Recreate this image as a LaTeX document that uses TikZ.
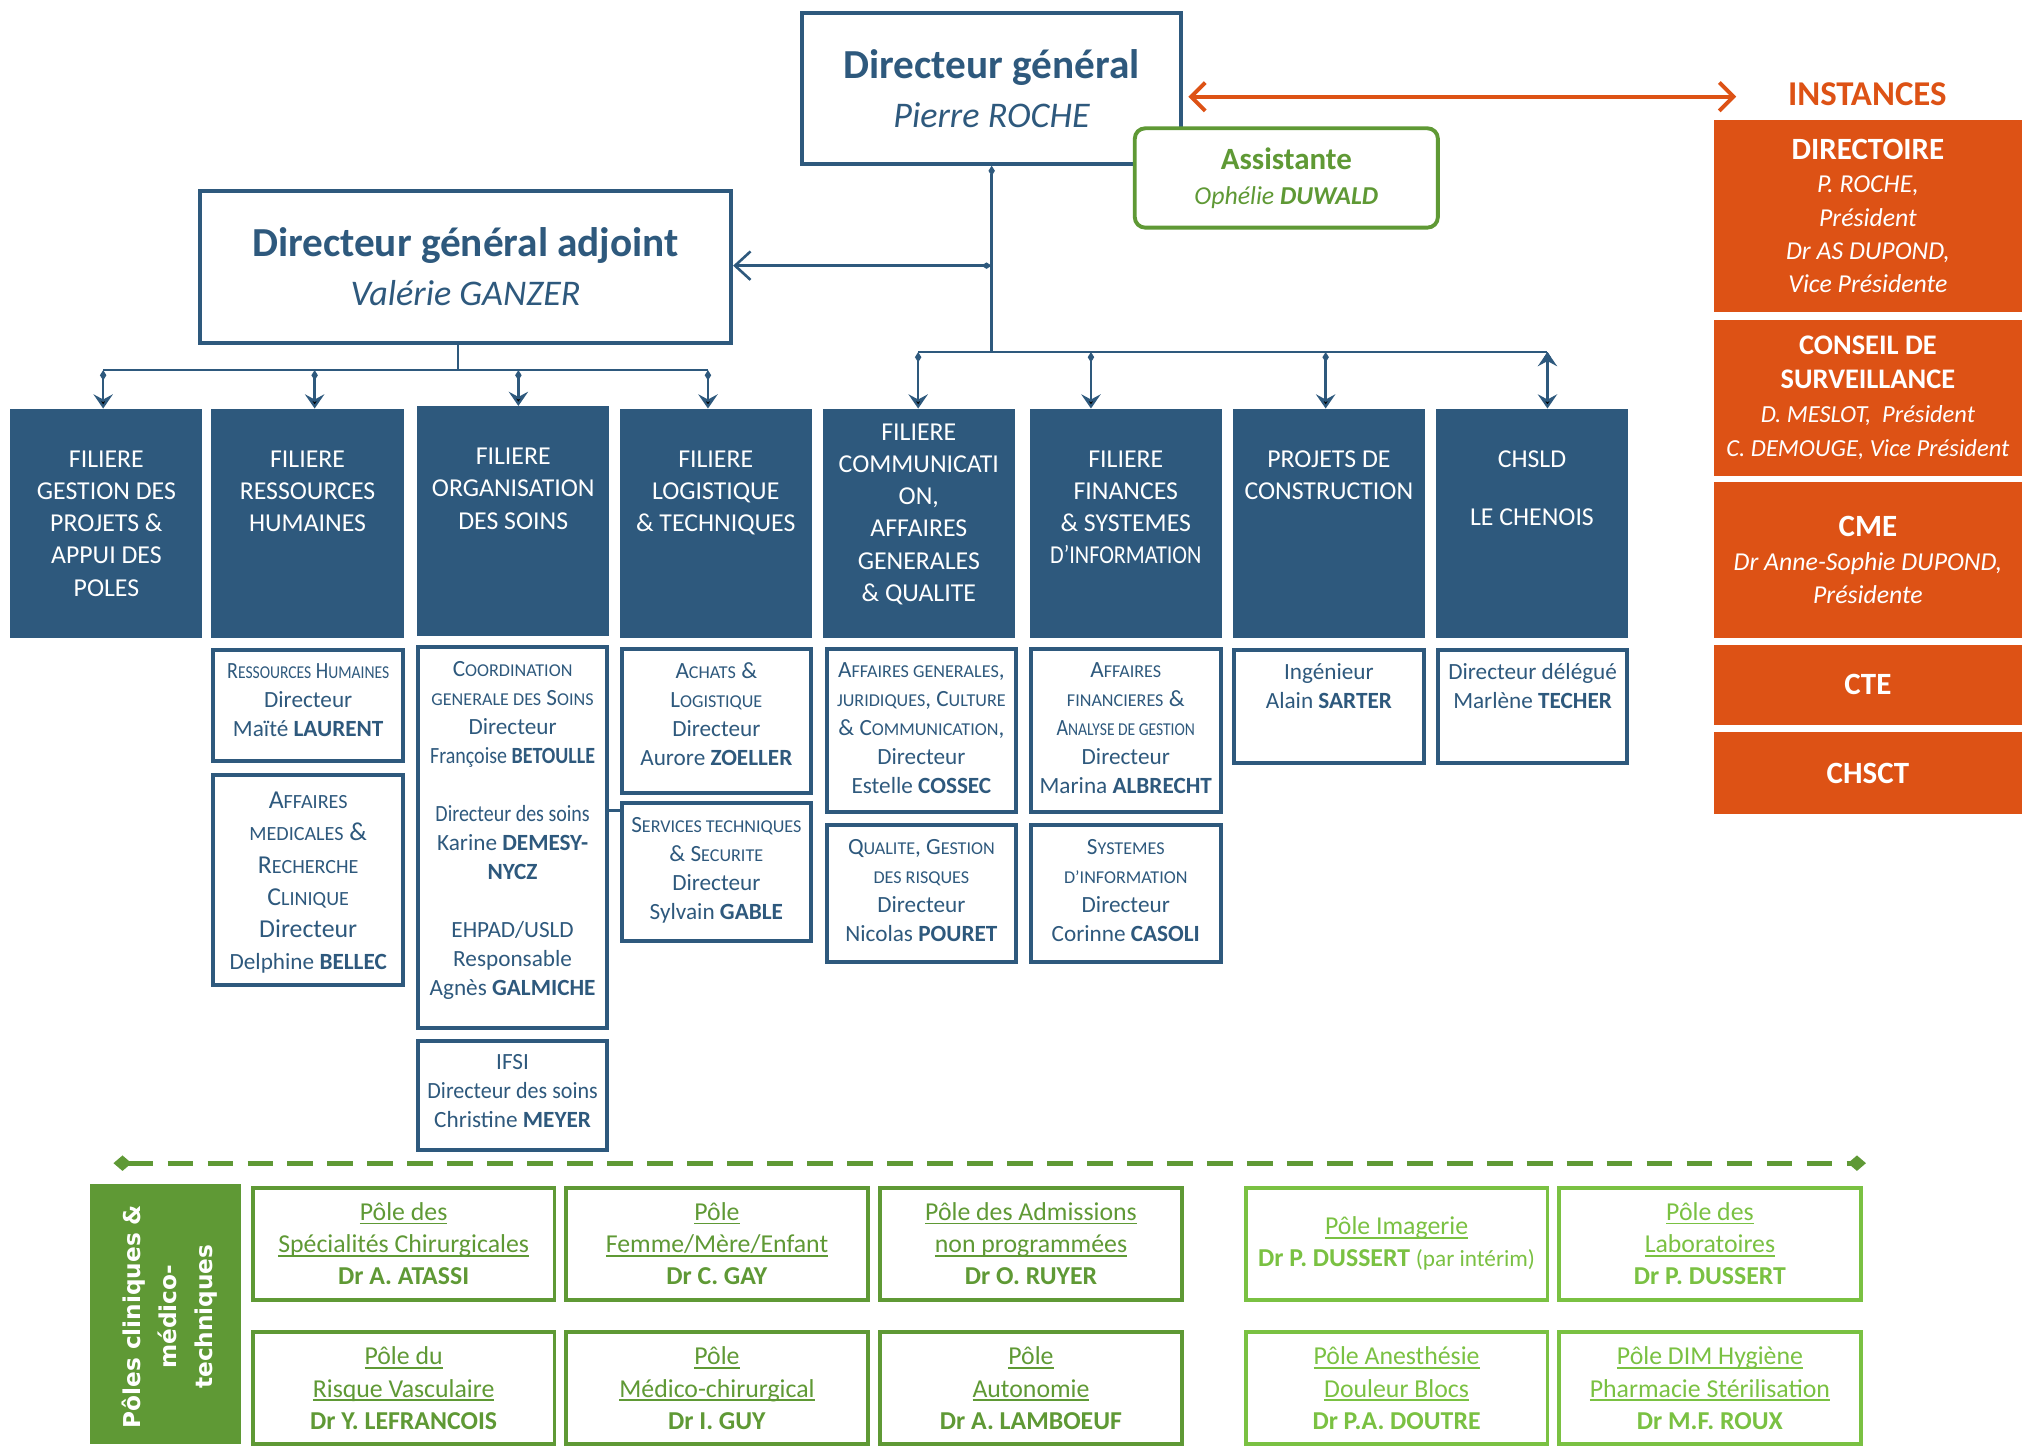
\documentclass[tikz,border=0pt]{standalone}
\usepackage{fontspec}
\setmainfont{Carlito}
\newfontfamily\polefont{DejaVu Sans}
\usepackage{graphicx}
\usepackage{tikz}
\usetikzlibrary{calc,positioning,shapes,arrows,arrows.meta,fit,backgrounds}

\definecolor{bleu}{HTML}{2E597D}
\definecolor{orinst}{HTML}{DD5215}
\definecolor{vertf}{HTML}{5F9935}
\definecolor{vertc}{HTML}{7AC142}
\newcommand{\fs}[2]{\fontsize{#1}{#2}\selectfont}
\newcommand{\petit}[1]{\scalebox{0.78}{#1}}
\newcommand{\serre}[1]{\scalebox{0.86}[1]{#1}}
\newsavebox{\soulbox}
\newcommand{\souligne}[1]{\sbox{\soulbox}{#1}\rlap{\rule[-3pt]{\wd\soulbox}{1.3pt}}\usebox{\soulbox}}

\begin{document}
\begin{tikzpicture}[x=1pt,y=-1pt,
		cadre/.style={draw=bleu,line width=3pt,fill=white,inner sep=0pt,align=center,text=bleu},
		filiere/.style={fill=bleu,minimum width=149pt,minimum height=178pt,inner sep=0pt},
		ftxt/.style={text=white,font=\fs{20}{25},align=center,anchor=north,inner xsep=0pt,inner ysep=32.5pt,execute at begin node=\strut},
		wbox/.style={draw=bleu,line width=3pt,minimum width=147pt,inner sep=0pt},
		wtxt/.style={text=bleu,font=\fs{18}{22.5},align=center,anchor=north,inner xsep=0pt,inner ysep=12pt,execute at begin node=\strut},
		inst/.style={fill=orinst,text=white,minimum width=239pt,inner sep=0pt,align=center,font=\fs{20}{25.7}},
		pole/.style={draw=vertf,text=vertf,line width=3pt,fill=white,minimum width=234pt,minimum height=87pt,inner sep=0pt,align=center,font=\fs{20}{25}},
		polec/.style={pole,draw=vertc,text=vertc},
		lien/.style={draw=bleu,line width=2pt},
		fleche/.style={lien,{Diamond[length=8pt,width=5pt]}-{Stealth[length=11pt,width=15pt,inset=4pt]}}]
		\useasboundingbox[fill=white] (0,0) rectangle (1568,1121);
		\node(1) [cadre,minimum width=294pt,minimum height=117pt,font=\fs{28}{38}] at (769,68.5) {{\fs{32}{38}\textbf{Directeur général}}\\\textit{Pierre ROCHE}};
		\node(2) [cadre,minimum width=412pt,minimum height=118pt,font=\fs{28}{38}] at (361,207) {{\fs{32}{38}\textbf{Directeur général adjoint}}\\\textit{Valérie GANZER}};
		\node(3) [draw=vertf,line width=3pt,rounded corners=8pt,fill=white,minimum width=235pt,minimum height=77pt,inner sep=0pt,align=center,text=vertf,font=\fs{20}{27}] at (997.5,138) {{\fs{24}{27}\textbf{Assistante}}\\\textit{Ophélie \textbf{DUWALD}}};
		\node(4) [text=orinst,font=\fs{27}{30}\bfseries,inner sep=0pt] at (1448,73) {INSTANCES};
		\node(5) [inst,minimum height=149pt] at (1448.5,167.5) {{\fs{24}{26}\textbf{DIRECTOIRE}}\\\textit{P. ROCHE,}\\\textit{Président}\\\textit{Dr AS DUPOND,}\\\textit{Vice Présidente}};
		\node(6) [inst,minimum height=121pt,font=\fs{19}{26.3}] at (1448.5,308.5) {{\fs{22}{27}\textbf{CONSEIL DE}}\\{\fs{22}{27}\textbf{SURVEILLANCE}}\\\textit{D. MESLOT,~~Président}\\\textit{C. DEMOUGE, Vice Président}};
		\node(7) [inst,minimum height=121pt,font=\fs{20}{26}] at (1448.5,434.5) {{\fs{24}{28}\textbf{CME}}\\\textit{Dr Anne-Sophie DUPOND,}\\\textit{Présidente}};
		\node(8) [inst,minimum height=62pt,font=\fs{24}{28}] at (1448.5,531) {\textbf{CTE}};
		\node(9) [inst,minimum height=63pt,font=\fs{24}{28}] at (1448.5,599.5) {\textbf{CHSCT}};

		\node(10) [filiere] at (82.5,406) {};
		\node(11) [filiere] at (238.5,406) {};
		\node(12) [filiere] at (398,404) {};
		\node(13) [filiere] at (555,406) {};
		\node(14) [filiere] at (712.5,406) {};
		\node(15) [filiere] at (873,406) {};
		\node(16) [filiere] at (1030.5,406) {};
		\node(17) [filiere] at (1188,406) {};
		\node(10t) [ftxt] at (10.north) {FILIERE\\GESTION DES\\PROJETS \&\\APPUI DES\\POLES};
		\node(11t) [ftxt] at (11.north) {FILIERE\\RESSOURCES\\HUMAINES};
		\node(12t) [ftxt] at (12.north) {FILIERE\\ORGANISATION\\DES SOINS};
		\node(13t) [ftxt] at (13.north) {FILIERE\\LOGISTIQUE\\\& TECHNIQUES};
		\node(14t) [ftxt,inner ysep=11.5pt] at (14.north) {FILIERE\\COMMUNICATI\\ON,\\AFFAIRES\\GENERALES\\\& QUALITE};
		\node(15t) [ftxt] at (15.north) {FILIERE\\FINANCES\\\& SYSTEMES\\\serre{D’INFORMATION}};
		\node(16t) [ftxt] at (16.north) {PROJETS DE\\CONSTRUCTION};
		\node(17t) [ftxt] at (17.north) {CHSLD\\[20pt]LE CHENOIS};

		\node(18) [wbox,minimum height=86pt] at (239,547) {};
		\node(19) [wbox,minimum height=163pt] at (239,682.5) {};
		\node(20) [wbox,minimum height=295pt] at (397.5,649.5) {};
		\node(21) [wbox,minimum height=85pt] at (397.5,849.5) {};
		\node(22) [wbox,minimum height=112pt] at (555.5,559) {};
		\node(23) [wbox,minimum height=107pt] at (555.5,676.5) {};
		\node(24) [wbox,minimum height=127pt] at (714.5,566.5) {};
		\node(25) [wbox,minimum height=106pt] at (714.5,693) {};
		\node(26) [wbox,minimum height=127pt] at (873,566.5) {};
		\node(27) [wbox,minimum height=106pt] at (873,693) {};
		\node(28) [wbox,minimum height=88pt] at (1030.5,548) {};
		\node(29) [wbox,minimum height=88pt] at (1188.5,548) {};
		\node(18t) [wtxt] at (18.north) {\serre{R\petit{ESSOURCES} H\petit{UMAINES}}\\Directeur\\Maïté \textbf{LAURENT}};
		\node(19t) [wtxt,font=\fs{20}{25},inner ysep=14.5pt] at (19.north) {A\petit{FFAIRES}\\\petit{MEDICALES} \&\\R\petit{ECHERCHE}\\C\petit{LINIQUE}\\Directeur\\{\fs{18}{25}Delphine \textbf{BELLEC}}};
		\node(20t) [wtxt] at (20.north) {C\petit{OORDINATION}\\\petit{GENERALE DES} S\petit{OINS}\\Directeur\\\serre{Françoise \textbf{BETOULLE}}\\[22.5pt]\serre{Directeur des soins}\\Karine \textbf{DEMESY-}\\\textbf{NYCZ}\\[22.5pt]EHPAD/USLD\\Responsable\\Agnès \textbf{GALMICHE}};
		\node(21t) [wtxt] at (21.north) {IFSI\\\scalebox{0.95}[1]{Directeur des soins}\\Christine \textbf{MEYER}};
		\node(22t) [wtxt] at (22.north) {A\petit{CHATS} \&\\L\petit{OGISTIQUE}\\Directeur\\Aurore \textbf{ZOELLER}};
		\node(23t) [wtxt] at (23.north) {S\petit{ERVICES TECHNIQUES}\\\& S\petit{ECURITE}\\Directeur\\Sylvain \textbf{GABLE}};
		\node(24t) [wtxt] at (24.north) {A\petit{FFAIRES GENERALES},\\\petit{JURIDIQUES}, C\petit{ULTURE}\\\& C\petit{OMMUNICATION},\\Directeur\\Estelle \textbf{COSSEC}};
		\node(25t) [wtxt] at (25.north) {Q\petit{UALITE}, G\petit{ESTION}\\\petit{DES RISQUES}\\Directeur\\Nicolas \textbf{POURET}};
		\node(26t) [wtxt] at (26.north) {A\petit{FFAIRES}\\\petit{FINANCIERES} \&\\\serre{A\petit{NALYSE DE GESTION}}\\Directeur\\Marina \textbf{ALBRECHT}};
		\node(27t) [wtxt] at (27.north) {S\petit{YSTEMES}\\\petit{D’INFORMATION}\\Directeur\\Corinne \textbf{CASOLI}};
		\node(28t) [wtxt] at (28.north) {Ingénieur\\Alain \textbf{SARTER}};
		\node(29t) [wtxt] at (29.north) {Directeur délégué\\Marlène \textbf{TECHER}};

		\node(30) [fill=vertf,minimum width=117pt,minimum height=202pt,inner sep=0pt] at (128.5,1019) {};
		\node(30t) [rotate=90,text=white,font={\polefont\bfseries\fs{18}{28}},align=center,inner sep=0pt] at (131.5,1021) {Pôles cliniques \&\\médico-\\techniques};
		\node(31) [pole] at (313,964.5) {\souligne{Pôle des}\\\souligne{Spécialités Chirurgicales}\\\textbf{Dr A. ATASSI}};
		\node(32) [pole] at (556,964.5) {\souligne{Pôle}\\\souligne{Femme/Mère/Enfant}\\\textbf{Dr C. GAY}};
		\node(33) [pole] at (799.5,964.5) {\souligne{Pôle des Admissions}\\\souligne{non programmées}\\\textbf{Dr O. RUYER}};
		\node(34) [polec] at (1083,964.5) {\souligne{Pôle Imagerie}\\\textbf{Dr P. DUSSERT} {\fs{18}{25}(par intérim)}};
		\node(35) [polec] at (1326,964.5) {\souligne{Pôle des}\\\souligne{Laboratoires}\\\textbf{Dr P. DUSSERT}};
		\node(36) [pole] at (313,1076.5) {\souligne{Pôle du}\\\souligne{Risque Vasculaire}\\\textbf{Dr Y. LEFRANCOIS}};
		\node(37) [pole] at (556,1076.5) {\souligne{Pôle}\\\souligne{Médico-chirurgical}\\\textbf{Dr I. GUY}};
		\node(38) [pole] at (799.5,1076.5) {\souligne{Pôle}\\\souligne{Autonomie}\\\textbf{Dr A. LAMBOEUF}};
		\node(39) [polec] at (1083,1076.5) {\souligne{Pôle Anesthésie}\\\souligne{Douleur Blocs}\\\textbf{Dr P.A. DOUTRE}};
		\node(40) [polec] at (1326,1076.5) {\souligne{Pôle DIM Hygiène}\\\souligne{Pharmacie Stérilisation}\\\textbf{Dr M.F. ROUX}};

		\coordinate(d0) at (769,206);
		\coordinate(b0) at (769,273);
		\coordinate(b1) at (712,273);
		\coordinate(b2) at (846,273);
		\coordinate(b3) at (1028,273);
		\coordinate(b4) at (1200,273);
		\coordinate(a0) at (355,287);
		\coordinate(a1) at (80,287);
		\coordinate(a2) at (244,287);
		\coordinate(a3) at (402,287);
		\coordinate(a4) at (549,287);
		\coordinate(k) at ($(23.north west)+(0,7)$);
		\coordinate(g1) at (88,902);
		\coordinate(g2) at (1447,902);
		\path[lien]
			(1.south) edge[{Diamond[length=8pt,width=5pt]}-] (b0)
			(d0) edge[{Diamond[length=8pt,width=5pt]}-{Straight Barb[length=12pt,width=22pt]}] (d0 -| 2.east)
			(b1) edge (b4)
			(2.south -| a0) edge (a0)
			(a1) edge (a4)
			(k -| 20.east) edge (k);
		\path[fleche]
			(a1) edge (a1 |- 10.north)
			(a2) edge (a2 |- 11.north)
			(a3) edge (a3 |- 12.north)
			(a4) edge (a4 |- 13.north)
			(b1) edge (b1 |- 14.north)
			(b2) edge (b2 |- 15.north)
			(b3) edge (b3 |- 16.north)
			(b4) edge (b4 |- 17.north);
		\draw[orinst,line width=3pt,{Straight Barb[length=11pt,width=22pt]}-{Straight Barb[length=11pt,width=22pt]}] ($(1.east)+(4,6.5)$) -- ($(4.west |- 1.east)+(-40,6.5)$);
		\draw[vertf,line width=4pt,dash pattern=on 20pt off 11pt,{Diamond[length=14pt,width=12pt]}-{Diamond[length=14pt,width=12pt]}] (g1) -- (g2);
	\end{tikzpicture}
\end{document}
